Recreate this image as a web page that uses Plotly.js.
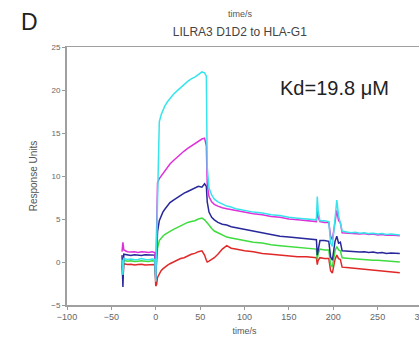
<!DOCTYPE html>
<html><head><meta charset="utf-8">
<script src="https://cdn.plot.ly/plotly-3.0.1.min.js"></script>
<style>html,body{margin:0;padding:0;overflow:hidden;background:#fff}#chart{width:440px;height:345px}</style>
</head><body><div id="chart"></div>
<script>
const timeS = [-38,-37,-36,-32,-28,-24,-20,-16,-12,-8,-4,-1,0,1,2,4,6,8,10,13,16,20,24,28,32,36,40,44,48,52,55,57,58,60,63,66,70,75,80,85,90,95,100,110,120,130,140,150,160,170,178,181,182,183,185,190,195,197,199,202,204,206,208,210,215,220,225,230,235,240,245,250,255,260,265,270,275];
const cyanRU = [0.3,-1.5,0.4,0.3,0.35,0.25,0.3,0.4,0.3,0.25,0.35,0.3,
 -2.3,3,10,16.3,17.1,17.7,18.1,
 18.6,19.0,19.5,19.9,20.3,20.7,21.0,21.3,21.5,21.8,22.1,
 22.0,21.6,11,8.6,7.8,7.3,7.0,6.7,6.5,6.4,6.2,6.1,6.0,
 5.8,5.7,5.5,5.4,5.2,5.1,5.0,4.9,4.9,
 7.6,6.0,4.8,4.8,4.7,2.2,1.8,4.6,7.2,5.4,4.6,3.6,
 3.5,3.4,3.45,3.35,3.4,3.3,3.35,3.25,3.3,3.2,3.25,3.2,3.15];
const magentaRU = [1.2,2.3,1.4,1.2,1.15,1.2,1.1,1.2,1.15,1.1,1.2,1.1,
 -1.5,3.5,9.2,9.7,10.0,10.3,10.6,
 11.0,11.4,11.8,12.2,12.6,12.9,13.2,13.5,13.8,14.0,14.3,
 14.4,13.5,9.0,7.6,7.0,6.7,6.5,6.3,6.2,6.1,6.0,5.9,5.8,
 5.6,5.5,5.3,5.2,5.0,4.9,4.8,4.7,4.7,
 6.2,5.2,4.7,4.6,4.6,3.0,2.6,4.5,6.0,4.8,4.6,3.4,
 3.35,3.3,3.3,3.25,3.3,3.2,3.25,3.15,3.2,3.1,3.15,3.1,3.05];
const blueRU = [0.8,-2.9,0.9,0.8,0.75,0.85,0.8,0.75,0.85,0.8,0.75,0.8,
 -2.0,1.0,3.5,4.8,5.4,5.8,6.1,
 6.5,6.9,7.2,7.5,7.7,8.0,8.2,8.4,8.6,8.8,8.7,
 9.1,8.8,7.0,5.8,5.2,4.9,4.6,4.4,4.3,4.1,4.0,3.9,3.8,
 3.6,3.4,3.2,3.0,2.9,2.8,2.7,2.6,2.6,
 0.8,1.5,2.5,2.5,2.4,0.6,0.2,2.4,3.0,2.2,2.3,1.3,
 1.25,1.2,1.2,1.15,1.2,1.1,1.15,1.05,1.1,1.0,1.05,1.0,1.0];
const greenRU = [0.1,-1.0,0.2,0.1,0.15,0.05,0.1,0.15,0.1,0.05,0.15,0.1,
 -1.5,0.0,1.6,2.5,2.8,3.0,3.2,
 3.4,3.6,3.8,4.0,4.2,4.4,4.6,4.7,4.8,5.0,5.1,
 4.9,4.7,4.5,4.3,3.9,3.6,3.4,3.1,2.9,2.8,2.7,2.6,2.5,
 2.3,2.2,2.0,1.9,1.8,1.7,1.6,1.5,1.5,
 0.3,1.0,1.5,1.4,1.4,-0.3,-0.6,1.3,1.8,1.4,1.3,0.5,
 0.45,0.4,0.35,0.3,0.3,0.25,0.2,0.2,0.15,0.1,0.1,0.05,0.0];
const redRU = [-0.3,-2.0,-0.2,-0.3,-0.25,-0.35,-0.3,-0.25,-0.35,-0.3,-0.25,-0.3,
 -2.8,-2.6,-1.8,-1.3,-1.0,-0.8,-0.6,
 -0.4,-0.2,0.0,0.2,0.4,0.5,0.7,0.9,1.0,1.2,1.3,
 0.8,0.2,0.0,0.1,0.3,0.5,0.9,1.5,1.9,1.6,1.5,1.4,1.3,
 1.2,1.0,0.9,0.8,0.7,0.6,0.6,0.5,0.5,
 -0.3,0.2,0.5,0.4,0.4,-1.0,-1.3,0.3,0.8,0.4,0.3,-0.6,
 -0.65,-0.7,-0.75,-0.8,-0.85,-0.9,-0.95,-1.0,-1.05,-1.1,-1.15,-1.2,-1.25];

const seriesList = [
  {y: redRU, color: '#e02828'},
  {y: greenRU, color: '#3edc3e'},
  {y: blueRU, color: '#28289a'},
  {y: magentaRU, color: '#e030d8'},
  {y: cyanRU, color: '#38e4ec'}
];
const traces = seriesList.map(s => ({
  x: timeS, y: s.y, type: 'scatter', mode: 'lines',
  line: {color: s.color, width: 1.5}, hoverinfo: 'skip', showlegend: false
}));

const F = 'Liberation Sans, Arial, sans-serif';
const layout = {
  width: 440, height: 345,
  margin: {l: 67, r: 18, t: 47, b: 40},
  paper_bgcolor: '#fff', plot_bgcolor: '#fff',
  font: {family: F, color: '#555'},
  title: {text: 'LILRA3 D1D2 to HLA-G1', font: {size: 12, color: '#444', family: F}, x: 0.545, xanchor: 'center', y: 0.907, yanchor: 'middle'},
  xaxis: {
    range: [-100, 300], tickvals: [-100,-50,0,50,100,150,200,250,300],
    ticks: 'outside', ticklen: 3, tickcolor: '#999', showgrid: false, zeroline: false,
    showline: true, linecolor: '#a0a0a0', linewidth: 1.5, mirror: true,
    tickfont: {size: 9, color: '#666'},
    title: {text: 'time/s', font: {size: 9, color: '#555'}, standoff: 6}
  },
  yaxis: {
    range: [-5, 25], tickvals: [-5,0,5,10,15,20,25],
    ticks: 'outside', ticklen: 3, tickcolor: '#999', showgrid: false, zeroline: false,
    showline: true, linecolor: '#a0a0a0', linewidth: 2,
    tickfont: {size: 8, color: '#666'},
    title: {text: 'Response Units', font: {size: 10, color: '#555'}, standoff: 12}
  },
  annotations: [
    {text: 'D', xref: 'paper', yref: 'paper', x: -0.135, y: 1.095, xanchor: 'left', yanchor: 'middle', showarrow: false, font: {size: 23, color: '#222', family: F}},
    {text: 'time/s', xref: 'paper', yref: 'paper', x: 0.49, y: 1.128, xanchor: 'center', yanchor: 'middle', showarrow: false, font: {size: 9, color: '#555', family: F}},
    {text: 'Kd=19.8 μM', xref: 'x', yref: 'y', x: 138, y: 20.2, xanchor: 'left', yanchor: 'middle', showarrow: false, font: {size: 20, color: '#222', family: F}}
  ]
};
Plotly.newPlot('chart', traces, layout, {displayModeBar: false, staticPlot: true});
</script></body></html>
